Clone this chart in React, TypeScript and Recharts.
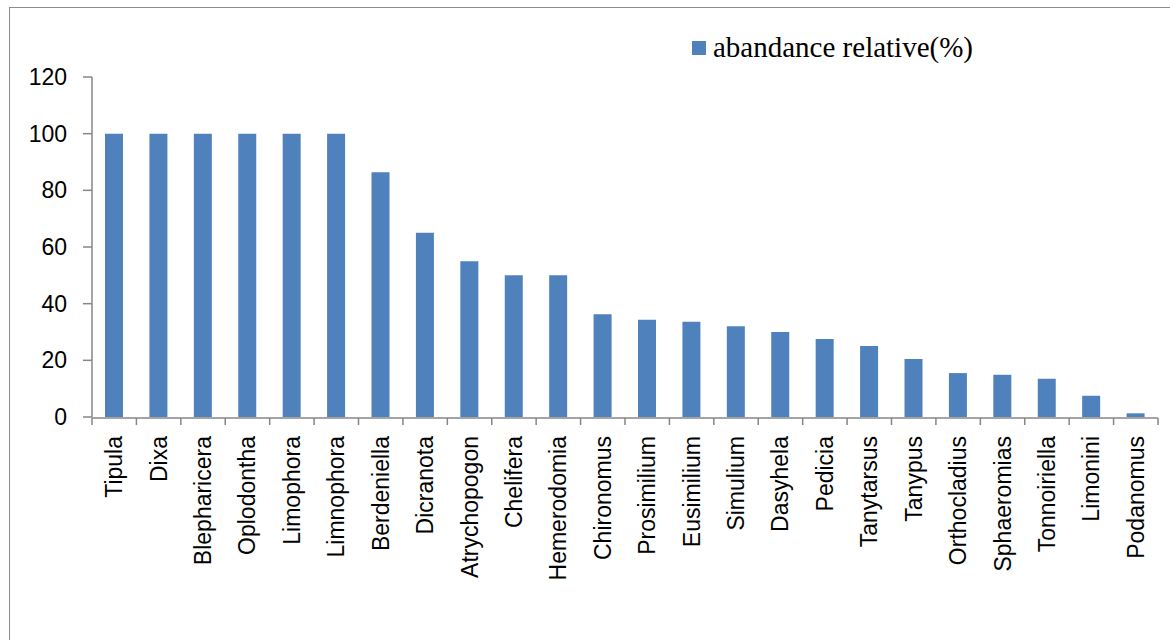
import React from 'react';
import { BarChart, Bar, XAxis, YAxis } from 'recharts';

// Genera (x-axis categories)
const genera = [
  'Tipula', 'Dixa', 'Blepharicera', 'Oplodontha', 'Limophora', 'Limnophora',
  'Berdeniella', 'Dicranota', 'Atrychopogon', 'Chelifera', 'Hemerodomia',
  'Chironomus', 'Prosimilium', 'Eusimilium', 'Simulium', 'Dasyhela', 'Pedicia',
  'Tanytarsus', 'Tanypus', 'Orthocladius', 'Sphaeromias', 'Tonnoiriella',
  'Limonini', 'Podanomus',
];

// Relative abundance (%) for each genus
const abundance = [
  100, 100, 100, 100, 100, 100, 86.4, 65, 55, 50, 50, 36.3, 34.3, 33.6, 32,
  30, 27.5, 25.1, 20.5, 15.5, 14.9, 13.5, 7.5, 1.3,
];

const yTicks = [0, 20, 40, 60, 80, 100, 120];
const seriesName = 'abandance relative(%)';

const data = genera.map((g, i) => ({ genus: g, value: abundance[i], idx: i }));
const boundaryTicks = genera.map((_, i) => i).concat([genera.length]);

const BAR_COLOR = '#4F81BD';
const AXIS_COLOR = '#868686';
const SANS = '"Liberation Sans", Arial, sans-serif';

const CategoryTick = (props: any) => {
  const { x, y, payload } = props;
  return (
    <text
      x={x}
      y={y}
      dx={-19}
      transform={`rotate(-90, ${x}, ${y})`}
      textAnchor="end"
      dominantBaseline="central"
      fontFamily={SANS}
      fontSize={23}
      fill="#000"
    >
      {payload.value}
    </text>
  );
};

const NoLabel = () => <g />;

export default function App() {
  return (
    <div
      style={{
        position: 'absolute',
        left: 0,
        top: 0,
        width: 1170,
        height: 640,
        overflow: 'hidden',
        background: '#fff',
      }}
    >
      <div
        style={{
          position: 'absolute',
          left: 9,
          top: 7,
          width: 1300,
          height: 800,
          border: '1px solid #8c8c8c',
          boxSizing: 'border-box',
        }}
      />
      <div style={{ position: 'absolute', left: 0, top: 0 }}>
        <BarChart
          width={1170}
          height={640}
          data={data}
          margin={{ top: 77, right: 12, left: 12, bottom: 221 }}
        >
          <XAxis
            xAxisId="grid"
            type="number"
            dataKey="idx"
            domain={[0, genera.length]}
            ticks={boundaryTicks}
            interval={0}
            height={1}
            allowDataOverflow
            axisLine={{ stroke: AXIS_COLOR, strokeWidth: 1.5 }}
            tickLine={{ stroke: AXIS_COLOR, strokeWidth: 1.5 }}
            tickSize={7}
            tick={<NoLabel />}
          />
          <XAxis
            xAxisId="cat"
            dataKey="genus"
            type="category"
            interval={0}
            height={1}
            axisLine={false}
            tickLine={false}
            tickSize={0}
            tickMargin={0}
            tick={<CategoryTick />}
          />
          <YAxis
            domain={[0, 120]}
            ticks={yTicks}
            interval={0}
            width={80}
            axisLine={{ stroke: AXIS_COLOR, strokeWidth: 1.5 }}
            tickLine={{ stroke: AXIS_COLOR, strokeWidth: 1.5 }}
            tickSize={9}
            tickMargin={16}
            tick={{ fill: '#000', fontSize: 23, fontFamily: SANS }}
          />
          <Bar
            xAxisId="cat"
            dataKey="value"
            name={seriesName}
            fill={BAR_COLOR}
            barSize={18}
            isAnimationActive={false}
          />
        </BarChart>
      </div>
      <div
        style={{
          position: 'absolute',
          left: 692,
          top: 31,
          display: 'flex',
          alignItems: 'center',
          fontFamily: '"Liberation Serif", "Times New Roman", serif',
          fontSize: 29,
          color: '#000',
          whiteSpace: 'nowrap',
        }}
      >
        <span
          style={{
            display: 'inline-block',
            width: 14,
            height: 14,
            background: BAR_COLOR,
            marginRight: 7,
          }}
        />
        <span>{seriesName}</span>
      </div>
    </div>
  );
}
